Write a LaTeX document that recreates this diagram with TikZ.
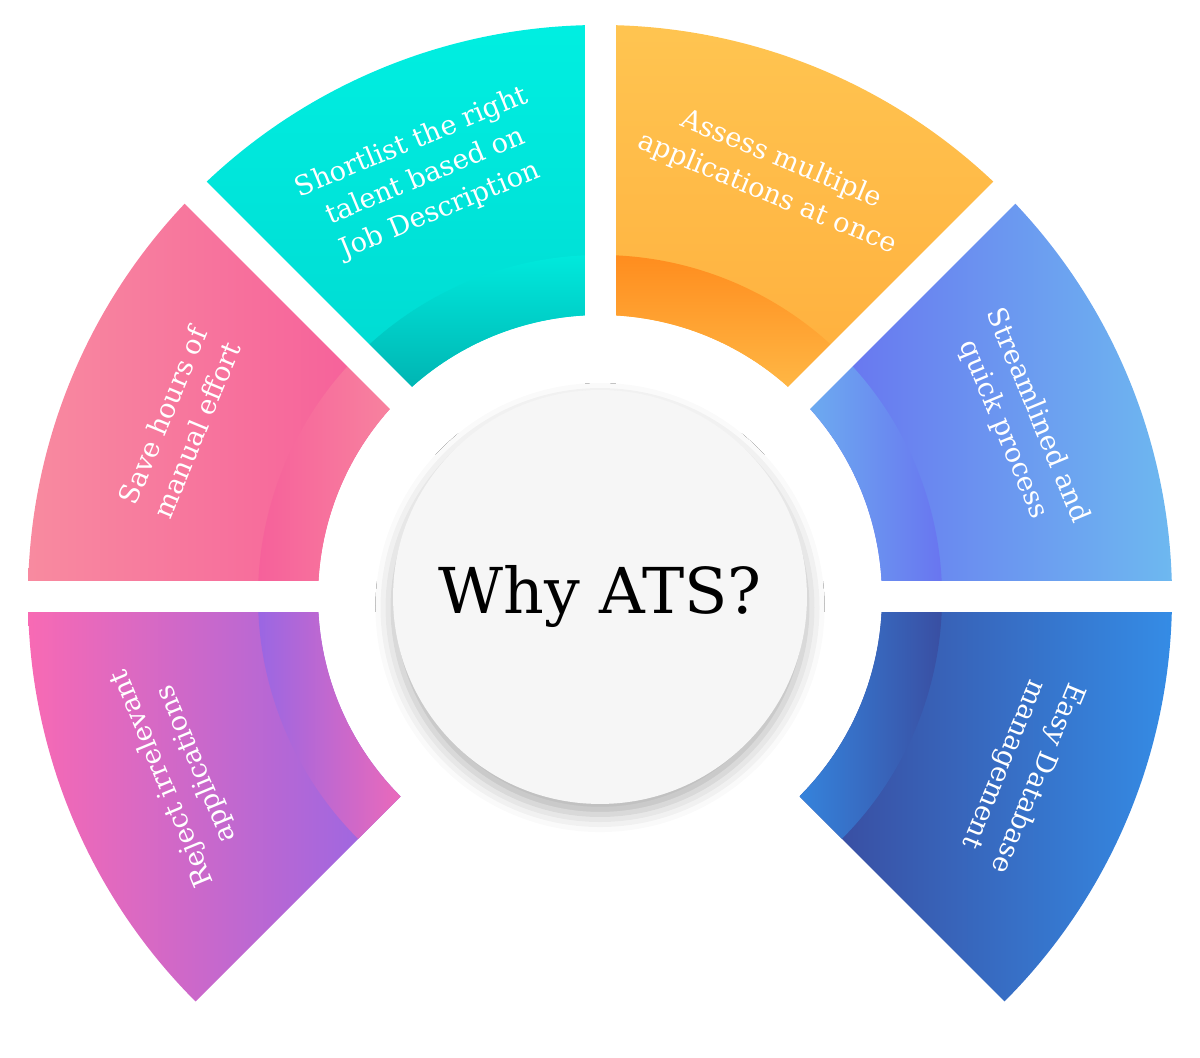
\documentclass[tikz,border=0pt]{standalone}
\usepackage{fontspec}
\setmainfont{DejaVu Serif}
\usetikzlibrary{shadows.blur}
\definecolor{cyA}{RGB}{0,240,226}\definecolor{cyB}{RGB}{0,180,182}
\definecolor{orA}{RGB}{255,198,82}\definecolor{orB}{RGB}{255,135,25}
\definecolor{blA}{RGB}{104,110,240}\definecolor{blB}{RGB}{110,190,240}
\definecolor{dbA}{RGB}{58,72,155}\definecolor{dbB}{RGB}{52,145,235}
\definecolor{pkA}{RGB}{248,142,160}\definecolor{pkB}{RGB}{246,92,154}
\definecolor{mgA}{RGB}{255,106,176}\definecolor{mgB}{RGB}{144,102,232}
\definecolor{ctr}{RGB}{246,246,246}
\begin{document}
\begin{tikzpicture}[x=0.02cm,y=0.02cm,
  lbl/.style={text=white,align=center,font=\fontsize{15.5}{21}\selectfont},
  gapline/.style={white,line width=0.62cm}]
\useasboundingbox (0,0) rectangle (1200,1058);
\coordinate (C) at (600,461);
\def\sect#1#2#3#4{([shift={(600,461)}]#1:#4) arc[start angle=#1,end angle=#2,radius=#4] -- ([shift={(600,461)}]#2:#3) arc[start angle=#2,end angle=#1,radius=#3] -- cycle}
% sectors
\begin{scope}\clip \sect{90}{135}{282}{572};
\shade[top color=cyA, bottom color=cyB] (0,0) rectangle (1200,1058);
\shade[top color=cyA, bottom color=cyB!90!black] \sect{80}{145}{282}{342};
\end{scope}
\begin{scope}\clip \sect{45}{90}{282}{572};
\shade[shading angle=30,top color=orA, bottom color=orB] (0,0) rectangle (1200,1058);
\shade[top color=orB, bottom color=orA] \sect{35}{100}{282}{342};
\end{scope}
\begin{scope}\clip \sect{0}{45}{282}{572};
\shade[left color=blA, right color=blB] (800,400) rectangle (1200,900);
\shade[left color=blB, right color=blA] \sect{-10}{55}{282}{342};
\end{scope}
\begin{scope}\clip \sect{-45}{0}{282}{572};
\shade[shading angle=-30,left color=dbA, right color=dbB] (800,0) rectangle (1200,500);
\shade[left color=dbB, right color=dbA] \sect{-55}{10}{282}{342};
\end{scope}
\begin{scope}\clip \sect{135}{180}{282}{572};
\shade[left color=pkA, right color=pkB] (0,400) rectangle (400,900);
\shade[left color=pkB, right color=pkA] \sect{125}{190}{282}{342};
\end{scope}
\begin{scope}\clip \sect{180}{225}{282}{572};
\shade[shading angle=-45,left color=mgA, right color=mgB] (0,0) rectangle (420,500);
\shade[left color=mgB, right color=mgA] \sect{170}{235}{282}{342};
\end{scope}
% gaps
\foreach \a in {0,45,90,135,180} \draw[gapline] (C) -- ++(\a:600);
% center
\node[circle,minimum size=8.28cm,fill=ctr,blur shadow={shadow xshift=0pt,shadow yshift=-6pt,shadow blur radius=10pt,shadow opacity=30},font=\fontsize{36}{42}\selectfont] (c) at (C) {Why ATS?};
% labels
\node[lbl,rotate=22.5] (t1) at ([shift={(600,461)}]112.5:455) {Shortlist the right\\talent based on\\Job Description};
\node[lbl,rotate=-22.5] (t2) at ([shift={(600,461)}]67.5:455) {Assess multiple\\applications at once};
\node[lbl,rotate=-67.5] (t3) at ([shift={(600,461)}]22.5:455) {Streamlined and\\quick process};
\node[lbl,rotate=-112.5] (t4) at ([shift={(600,461)}]-22.5:455) {Easy Database\\management};
\node[lbl,rotate=67.5] (t5) at ([shift={(600,461)}]157.5:455) {Save hours of\\manual effort};
\node[lbl,rotate=112.5] (t6) at ([shift={(600,461)}]202.5:455) {Reject irrelevant\\applications};
\end{tikzpicture}
\end{document}
